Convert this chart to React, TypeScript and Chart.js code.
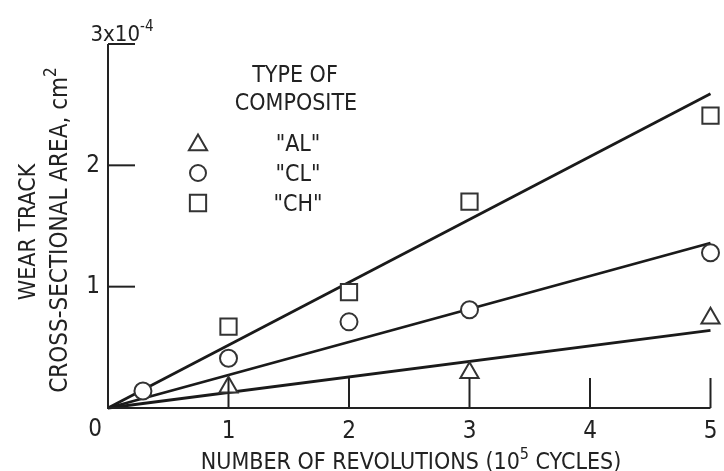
import React, { useEffect, useRef } from "react";
import { Chart, registerables } from "chart.js";

Chart.register(...registerables);

// Wear track cross-sectional area (units of 1e-4 cm^2) vs revolutions (units of 1e5 cycles)
const revolutionsAL = [1, 3, 5];
const areaAL = [0.17, 0.29, 0.74];
const revolutionsCL = [0.29, 1, 2, 3, 5];
const areaCL = [0.14, 0.41, 0.71, 0.81, 1.28];
const revolutionsCH = [1, 2, 3, 5];
const areaCH = [0.67, 0.955, 1.7, 2.41];

// fitted straight lines (start / end)
const fitRevolutions = [0, 5];
const fitAL = [0, 0.64];
const fitCL = [0, 1.36];
const fitCH = [0, 2.59];

const xTickValues = [1, 2, 3, 4, 5];
const yTickValues = [1, 2, 3];
const yTickLabels = ["1", "2", ""];
const legendLabels = ['"AL"', '"CL"', '"CH"'];
const legendStyles = ["triangle", "circle", "rect"];

const FONT = '"Liberation Sans Narrow", "DejaVu Sans Condensed", "Liberation Sans", sans-serif';
const INK = "#222";

function pts(xs: number[], ys: number[]) {
  return xs.map((x, i) => ({ x, y: ys[i] }));
}

function drawRich(
  ctx: CanvasRenderingContext2D,
  parts: { t: string; sup?: boolean }[],
  x: number,
  y: number,
  size: number,
  align: "center" | "left" = "center"
) {
  const supSize = Math.round(size * 0.7);
  let total = 0;
  const widths = parts.map((p) => {
    ctx.font = `${p.sup ? supSize : size}px ${FONT}`;
    const w = ctx.measureText(p.t).width;
    total += w;
    return w;
  });
  let cx = align === "center" ? x - total / 2 : x;
  ctx.textBaseline = "alphabetic";
  ctx.textAlign = "left";
  parts.forEach((p, i) => {
    ctx.font = `${p.sup ? supSize : size}px ${FONT}`;
    ctx.fillText(p.t, cx, p.sup ? y - size * 0.45 : y);
    cx += widths[i];
  });
}

function drawMarker(ctx: CanvasRenderingContext2D, style: string, x: number, y: number, r: number) {
  ctx.beginPath();
  if (style === "circle") {
    ctx.arc(x, y, r, 0, Math.PI * 2);
  } else if (style === "rect") {
    const h = r * Math.SQRT1_2;
    ctx.rect(x - h, y - h, 2 * h, 2 * h);
  } else {
    for (let k = 0; k < 3; k++) {
      const a = (k * 2 * Math.PI) / 3;
      const px = x + Math.sin(a) * r;
      const py = y - Math.cos(a) * r;
      if (k === 0) ctx.moveTo(px, py);
      else ctx.lineTo(px, py);
    }
    ctx.closePath();
  }
  ctx.fillStyle = "#fff";
  ctx.fill();
  ctx.stroke();
}

const axesPlugin = {
  id: "customAxes",
  afterDatasetsDraw(chart: any) {
    const ctx: CanvasRenderingContext2D = chart.ctx;
    const xs = chart.scales.x;
    const ys = chart.scales.y;
    const x0 = xs.getPixelForValue(0);
    const y0 = ys.getPixelForValue(0);
    const xEnd = xs.getPixelForValue(5);
    const yTop = ys.getPixelForValue(3);
    ctx.save();
    ctx.strokeStyle = INK;
    ctx.fillStyle = INK;
    ctx.lineWidth = 2;
    ctx.lineCap = "butt";
    // axis lines
    ctx.beginPath();
    ctx.moveTo(x0, yTop);
    ctx.lineTo(x0, y0);
    ctx.lineTo(xEnd, y0);
    ctx.stroke();
    // x ticks (inward)
    xTickValues.forEach((v) => {
      const px = xs.getPixelForValue(v);
      ctx.beginPath();
      ctx.moveTo(px, y0);
      ctx.lineTo(px, y0 - 30);
      ctx.stroke();
    });
    // y ticks (inward)
    yTickValues.forEach((v) => {
      const py = ys.getPixelForValue(v);
      ctx.beginPath();
      ctx.moveTo(x0, py);
      ctx.lineTo(x0 + 27, py);
      ctx.stroke();
    });
    // tick labels
    ctx.font = `24px ${FONT}`;
    ctx.textAlign = "center";
    ctx.textBaseline = "middle";
    xTickValues.forEach((v) => {
      ctx.fillText(String(v), xs.getPixelForValue(v), y0 + 24);
    });
    ctx.fillText("0", x0 - 13, y0 + 22);
    yTickValues.forEach((v, i) => {
      if (yTickLabels[i]) ctx.fillText(yTickLabels[i], x0 - 15, ys.getPixelForValue(v));
    });
    // top label 3x10^-4
    drawRich(ctx, [{ t: "3x10" }, { t: "-4", sup: true }], 122, yTop - 3, 22);

    // x title
    drawRich(
      ctx,
      [{ t: "NUMBER OF REVOLUTIONS (10" }, { t: "5", sup: true }, { t: " CYCLES)" }],
      411,
      469,
      23
    );

    // y title
    ctx.save();
    ctx.translate(35, 232);
    ctx.rotate(-Math.PI / 2);
    drawRich(ctx, [{ t: "WEAR TRACK" }], 0, 0, 23);
    ctx.restore();
    ctx.save();
    ctx.translate(67, 230);
    ctx.rotate(-Math.PI / 2);
    drawRich(ctx, [{ t: "CROSS-SECTIONAL AREA, cm" }, { t: "2", sup: true }], 0, 0, 24);
    ctx.restore();

    // legend
    drawRich(ctx, [{ t: "TYPE OF" }], 295, 82, 23);
    drawRich(ctx, [{ t: "COMPOSITE" }], 296, 110, 23);
    const legY = [143, 173, 203];
    ctx.lineWidth = 2;
    ctx.strokeStyle = "#333";
    legendLabels.forEach((lab, i) => {
      const r = legendStyles[i] === "triangle" ? 10.5 : legendStyles[i] === "rect" ? 11.5 : 8;
      drawMarker(ctx, legendStyles[i], 198, legY[i] + (legendStyles[i] === "triangle" ? 2 : 0), r);
      ctx.fillStyle = INK;
      drawRich(ctx, [{ t: lab }], 298, legY[i] + 8, 23);
    });
    ctx.restore();
  },
};

export default function App() {
  const ref = useRef<HTMLCanvasElement | null>(null);
  useEffect(() => {
    if (!ref.current) return;
    const markerCommon = {
      pointBackgroundColor: "#fff",
      pointBorderColor: "#333",
      pointBorderWidth: 2,
      showLine: false,
      clip: false as any,
      order: 0,
    };
    const lineCommon = {
      borderColor: "#1a1a1a",
      borderWidth: 2.8,
      pointRadius: 0,
      showLine: true,
      clip: false as any,
      order: 1,
    };
    const chart = new Chart(ref.current, {
      type: "scatter",
      data: {
        datasets: [
          { label: '"AL"', data: pts(revolutionsAL, areaAL), pointStyle: "triangle", pointRadius: 10.5, ...markerCommon },
          { label: '"CL"', data: pts(revolutionsCL, areaCL), pointStyle: "circle", pointRadius: 8.5, ...markerCommon },
          { label: '"CH"', data: pts(revolutionsCH, areaCH), pointStyle: "rect", pointRadius: 11.5, ...markerCommon },
          { label: "fit AL", data: pts(fitRevolutions, fitAL), ...lineCommon },
          { label: "fit CL", data: pts(fitRevolutions, fitCL), ...lineCommon },
          { label: "fit CH", data: pts(fitRevolutions, fitCH), ...lineCommon },
        ] as any,
      },
      options: {
        animation: false,
        responsive: false,
        layout: { padding: { left: 108, right: 11, top: 44, bottom: 63 } },
        plugins: { legend: { display: false }, tooltip: { enabled: false } },
        scales: {
          x: { type: "linear", min: 0, max: 5, display: false },
          y: { type: "linear", min: 0, max: 3, display: false },
        },
      },
      plugins: [axesPlugin],
    });
    return () => chart.destroy();
  }, []);
  return (
    <div style={{ position: "absolute", left: 0, top: 0, width: 724, height: 471, background: "#fff" }}>
      <canvas ref={ref} width={724} height={471} style={{ display: "block" }} />
    </div>
  );
}
